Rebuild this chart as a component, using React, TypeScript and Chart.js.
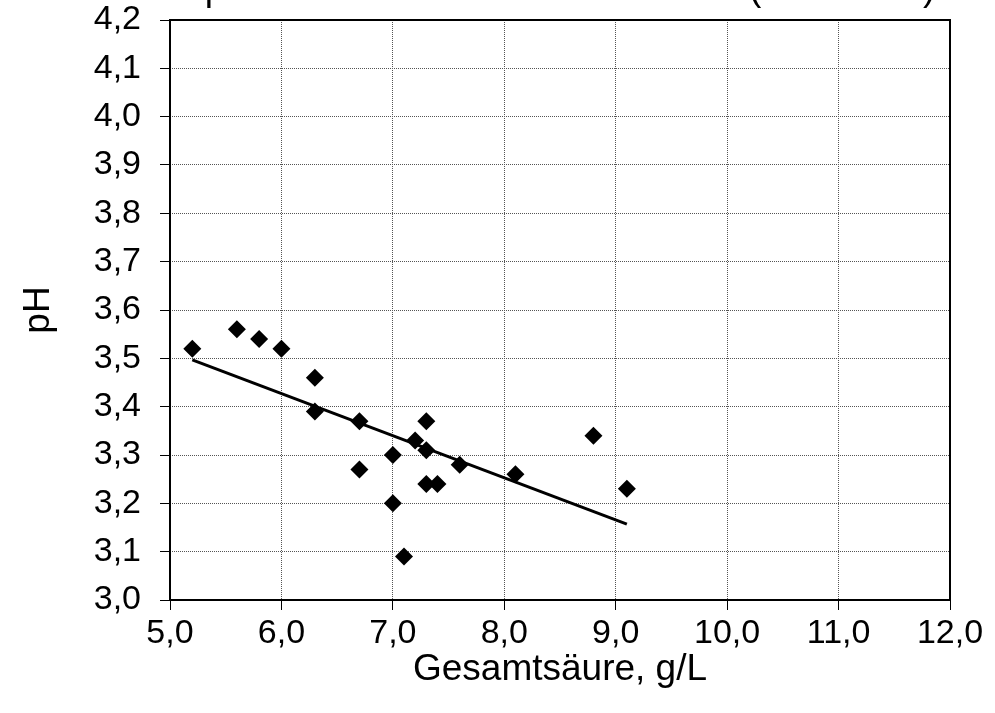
import React, { useEffect, useRef } from "react";
import { Chart, registerables } from "chart.js";

Chart.register(...registerables);

const chartTitle = "pH-Wert und Gesamtsäure 2010 (Weißwein)";
const xAxisTitle = "Gesamtsäure, g/L";
const yAxisTitle = "pH";

// Gesamtsäure (g/L)
const acidity = [5.2, 5.6, 5.8, 6.0, 6.3, 6.3, 6.7, 6.7, 7.0, 7.0, 7.1, 7.2, 7.3, 7.3, 7.3, 7.4, 7.6, 8.1, 8.8, 9.1];
// pH
const phValues = [3.52, 3.56, 3.54, 3.52, 3.46, 3.39, 3.37, 3.27, 3.3, 3.2, 3.09, 3.33, 3.37, 3.31, 3.24, 3.24, 3.28, 3.26, 3.34, 3.23];

// linear trend line end points
const trendX = [5.2, 9.1];
const trendY = [3.497, 3.157];

const xMin = 5;
const xMax = 12;
const xStep = 1;
const yMin = 3.0;
const yMax = 4.2;
const yStep = 0.1;

const FONT = '"Liberation Sans", Arial, sans-serif';

const fmt = (v: number) => Number(v).toFixed(1).replace(".", ",");

export default function App() {
  const ref = useRef<HTMLCanvasElement | null>(null);

  useEffect(() => {
    if (!ref.current) return;
    const framePlugin = {
      id: "frame",
      beforeDatasetsDraw(chart: any) {
        const { ctx, chartArea } = chart;
        ctx.save();
        ctx.strokeStyle = "#000";
        ctx.lineWidth = 2;
        ctx.strokeRect(chartArea.left, chartArea.top, chartArea.right - chartArea.left, chartArea.bottom - chartArea.top);
        ctx.restore();
      },
      afterDraw(chart: any) {
        const { ctx, chartArea } = chart;
        ctx.save();
        ctx.fillStyle = "#000";
        ctx.font = `37px ${FONT}`;
        ctx.textAlign = "center";
        ctx.textBaseline = "alphabetic";
        ctx.fillText(chartTitle, (chartArea.left + chartArea.right) / 2 + 10, 0);
        ctx.restore();
      },
    };

    const chart = new Chart(ref.current, {
      type: "scatter",
      data: {
        datasets: [
          {
            label: "pH",
            data: acidity.map((x, i) => ({ x, y: phValues[i] })),
            pointStyle: "rectRot",
            pointRadius: 9,
            pointHoverRadius: 9,
            backgroundColor: "#000",
            borderColor: "#000",
            borderWidth: 0,
            order: 1,
          },
          {
            type: "line",
            label: "Trend",
            data: trendX.map((x, i) => ({ x, y: trendY[i] })),
            borderColor: "#000",
            borderWidth: 3,
            pointRadius: 0,
            showLine: true,
            fill: false,
            order: 2,
          } as any,
        ],
      },
      options: {
        animation: false,
        responsive: false,
        events: [],
        layout: { padding: { left: 0, top: 20, right: 45, bottom: 0 } },
        plugins: {
          legend: { display: false },
          title: { display: false },
          tooltip: { enabled: false },
        },
        scales: {
          x: {
            type: "linear",
            min: xMin,
            max: xMax,
            ticks: {
              stepSize: xStep,
              callback: (v: any) => fmt(v),
              color: "#000",
              font: { family: FONT, size: 34 },
              padding: 3,
              maxRotation: 0,
            },
            grid: {
              color: "#555",
              lineWidth: 1,
              tickLength: 10,
              tickColor: "#000",
              tickWidth: 1,
            },
            border: { display: false, dash: [1, 1] },
            title: {
              display: true,
              text: xAxisTitle,
              color: "#000",
              font: { family: FONT, size: 37 },
              padding: { top: 0, bottom: 21 },
            },
            afterFit: (s: any) => {
              s.height = 113;
              s.paddingLeft = 0;
              s.paddingRight = 0;
            },
          },
          y: {
            type: "linear",
            min: yMin,
            max: yMax,
            ticks: {
              stepSize: yStep,
              callback: (v: any) => fmt(v),
              color: "#000",
              font: { family: FONT, size: 34 },
              padding: 19,
            },
            grid: {
              color: "#555",
              lineWidth: 1,
              tickLength: 10,
              tickColor: "#000",
              tickWidth: 1,
            },
            border: { display: false, dash: [1, 1] },
            title: {
              display: true,
              text: yAxisTitle,
              color: "#000",
              font: { family: FONT, size: 37 },
              padding: { top: 17, bottom: 0 },
            },
            afterFit: (s: any) => {
              s.width = 170;
              s.paddingTop = 0;
              s.paddingBottom = 0;
            },
          },
        },
      },
      plugins: [framePlugin],
    });
    return () => chart.destroy();
  }, []);

  return (
    <div style={{ position: "absolute", left: 0, top: 0, width: 995, height: 713, background: "#fff" }}>
      <canvas ref={ref} width={995} height={713} />
    </div>
  );
}
